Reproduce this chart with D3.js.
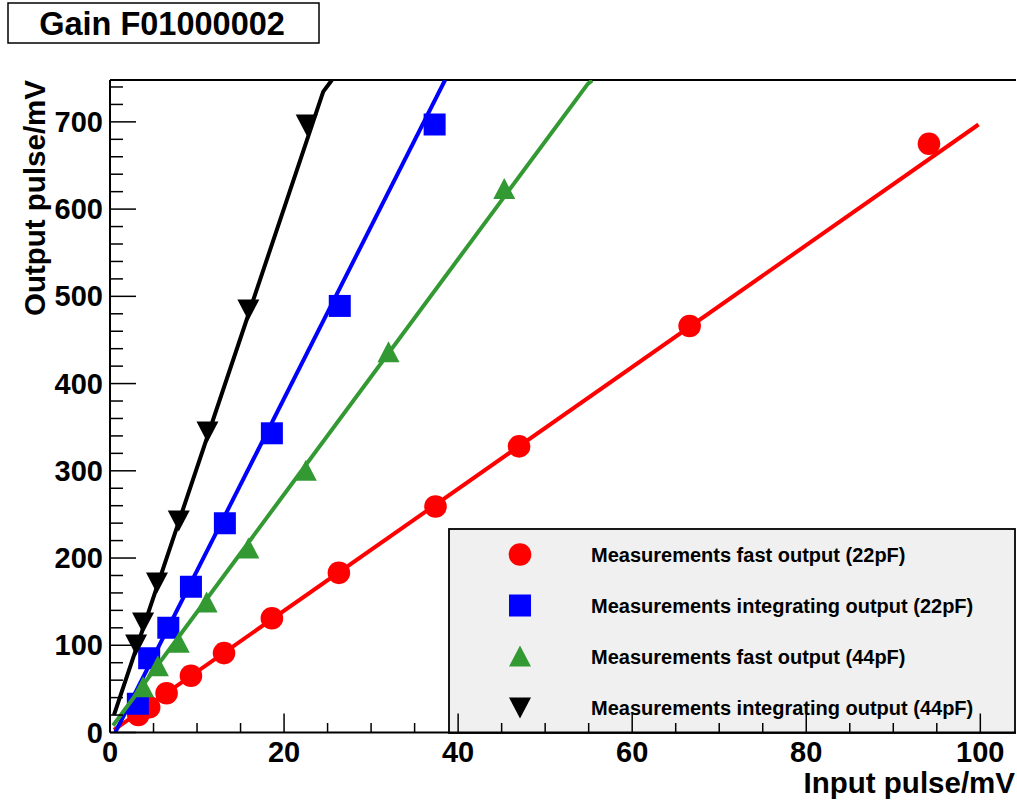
<!DOCTYPE html>
<html>
<head>
<meta charset="utf-8">
<script src="https://cdn.jsdelivr.net/npm/d3@7"></script>
<style>
  html, body { margin: 0; padding: 0; background: #fff; }
  svg { display: block; }
  text { font-family: "Liberation Sans", Arial, Helvetica, sans-serif; font-weight: bold; }
</style>
</head>
<body>
<div id="chart"></div>
<script>
// ---- data ----
const title = "Gain F01000002";
const xTitle = "Input pulse/mV";
const yTitle = "Output pulse/mV";
const xTicks = [0, 20, 40, 60, 80, 100];
const yTicks = [0, 100, 200, 300, 400, 500, 600, 700];

const seriesNames = [
  "Measurements fast output (22pF)",
  "Measurements integrating output (22pF)",
  "Measurements fast output (44pF)",
  "Measurements integrating output (44pF)"
];
const seriesColors = ["#ff0000", "#0000ff", "#339933", "#000000"];
const seriesShapes = ["circle", "square", "triangle", "invtriangle"];

// fast output 22pF
const fast22X = [3.25, 4.5, 6.5, 9.3, 13.1, 18.6, 26.3, 37.4, 47.0, 66.6, 94.1];
const fast22Y = [20, 29, 45, 65, 91, 131, 183, 259, 328, 466, 675];
// integrating output 22pF
const int22X = [3.2, 4.5, 6.7, 9.3, 13.2, 18.6, 26.4, 37.3];
const int22Y = [33, 85, 120, 167, 240, 343, 489, 697];
// fast output 44pF
const fast44X = [3.8, 5.5, 7.9, 11.1, 15.9, 22.5, 32.0, 45.3];
const fast44Y = [52, 76, 103, 149, 211, 300, 436, 623];
// integrating output 44pF
const int44X = [3.0, 3.8, 5.4, 7.9, 11.2, 15.9, 22.6];
const int44Y = [101, 126, 172, 243, 345, 485, 697];

// fitted lines (as drawn in the reference)
const fitFast22X = [0.45, 99.8];
const fitFast22Y = [3, 697];
const fitInt22X = [0.6, 38.5];
const fitInt22Y = [0, 748];
const fitFast44X = [0.35, 54.9, 55.4];
const fitFast44Y = [8, 743.6, 747.5];
const fitInt44X = [0.45, 24.5, 25.5];
const fitInt44Y = [20, 734.7, 748];

const seriesX = [fast22X, int22X, fast44X, int44X];
const seriesY = [fast22Y, int22Y, fast44Y, int44Y];
const fitX = [fitFast22X, fitInt22X, fitFast44X, fitInt44X];
const fitY = [fitFast22Y, fitInt22Y, fitFast44Y, fitInt44Y];

// ---- layout ----
const W = 1017, H = 802;
const frame = { left: 110, right: 1016, top: 80, bottom: 732.5 };

const svg = d3.select("#chart").append("svg").attr("width", W).attr("height", H);

const x = d3.scaleLinear().domain([0, 104.1]).range([frame.left, frame.right]);
const y = d3.scaleLinear().domain([0, 748]).range([frame.bottom, frame.top]);

svg.append("defs").append("clipPath").attr("id", "plotclip")
  .append("rect").attr("x", frame.left).attr("y", frame.top)
  .attr("width", frame.right - frame.left).attr("height", frame.bottom - frame.top);

// title box
svg.append("rect").attr("x", 8).attr("y", 3).attr("width", 311).attr("height", 40)
  .attr("fill", "#fff").attr("stroke", "#000").attr("stroke-width", 1.5);
svg.append("text").attr("x", 162).attr("y", 35).attr("text-anchor", "middle")
  .attr("font-size", 32.5).text(title);

// top frame line
svg.append("line").attr("x1", frame.left).attr("x2", frame.right)
  .attr("y1", frame.top).attr("y2", frame.top).attr("stroke", "#000").attr("stroke-width", 1.8);

// legend
const leg = { x: 449, y: 529, w: 566, h: 204 };
svg.append("rect").attr("x", leg.x).attr("y", leg.y).attr("width", leg.w).attr("height", leg.h)
  .attr("fill", "#f0f0f0").attr("stroke", "#000").attr("stroke-width", 1.8);

function markerPath(shape, cx, cy) {
  if (shape === "square") return `M${cx - 11},${cy - 11}h22v22h-22z`;
  if (shape === "triangle") return `M${cx},${cy - 11}L${cx + 11},${cy + 10}L${cx - 11},${cy + 10}z`;
  if (shape === "invtriangle") return `M${cx},${cy + 11}L${cx + 11},${cy - 10}L${cx - 11},${cy - 10}z`;
  return null;
}
function drawMarker(g, shape, cx, cy, color) {
  if (shape === "circle") {
    g.append("circle").attr("cx", cx).attr("cy", cy).attr("r", 11.3).attr("fill", color);
  } else {
    g.append("path").attr("d", markerPath(shape, cx, cy)).attr("fill", color);
  }
}

// series
const plot = svg.append("g").attr("clip-path", "url(#plotclip)");
const line = d3.line().x(d => x(d[0])).y(d => y(d[1]));
seriesNames.forEach((name, i) => {
  const g = plot.append("g");
  const pts = seriesX[i].map((v, k) => [v, seriesY[i][k]]);
  pts.forEach(p => drawMarker(g, seriesShapes[i], x(p[0]), y(p[1]), seriesColors[i]));
  const fpts = fitX[i].map((v, k) => [v, fitY[i][k]]);
  g.append("path").attr("d", line(fpts)).attr("fill", "none")
    .attr("stroke", seriesColors[i]).attr("stroke-width", 4).attr("stroke-linejoin", "round");
});

// legend entries
seriesNames.forEach((name, i) => {
  const cy = leg.y + leg.h / 8 + i * leg.h / 4;
  drawMarker(svg, seriesShapes[i], 520, cy, seriesColors[i]);
  svg.append("text").attr("x", 591).attr("y", cy).attr("dominant-baseline", "central")
    .attr("font-size", 20).text(name);
});

// axes
const axisG = svg.append("g");
axisG.append("line").attr("x1", frame.left).attr("x2", frame.right)
  .attr("y1", frame.bottom).attr("y2", frame.bottom).attr("stroke", "#000").attr("stroke-width", 2);
axisG.append("line").attr("x1", frame.left).attr("x2", frame.left)
  .attr("y1", frame.top).attr("y2", frame.bottom).attr("stroke", "#000").attr("stroke-width", 2);

// x ticks (inward)
const xMinor = d3.range(0, 104.1, 5);
axisG.selectAll(".xt").data(xMinor).join("line")
  .attr("x1", d => x(d)).attr("x2", d => x(d))
  .attr("y1", frame.bottom)
  .attr("y2", d => frame.bottom - (d % 20 === 0 ? 19 : 9.5))
  .attr("stroke", "#000").attr("stroke-width", 1.5);
axisG.selectAll(".xl").data(xTicks).join("text")
  .attr("x", d => x(d)).attr("y", 762).attr("text-anchor", "middle")
  .attr("font-size", 29).text(d => d);

// y ticks (inward)
const yMinor = d3.range(0, 748, 20);
axisG.selectAll(".yt").data(yMinor).join("line")
  .attr("y1", d => y(d)).attr("y2", d => y(d))
  .attr("x1", frame.left)
  .attr("x2", d => frame.left + (d % 100 === 0 ? 26 : 13))
  .attr("stroke", "#000").attr("stroke-width", 1.5);
axisG.selectAll(".yl").data(yTicks).join("text")
  .attr("x", 103).attr("y", d => y(d)).attr("text-anchor", "end")
  .attr("dominant-baseline", "central")
  .attr("font-size", 29).text(d => d);

// axis titles (right-aligned at the axis ends)
svg.append("text").attr("x", 1015).attr("y", 793).attr("text-anchor", "end")
  .attr("font-size", 29.5).text(xTitle);
svg.append("text").attr("transform", `translate(45,${frame.top}) rotate(-90)`)
  .attr("text-anchor", "end").attr("font-size", 29.5).text(yTitle);
</script>
</body>
</html>
